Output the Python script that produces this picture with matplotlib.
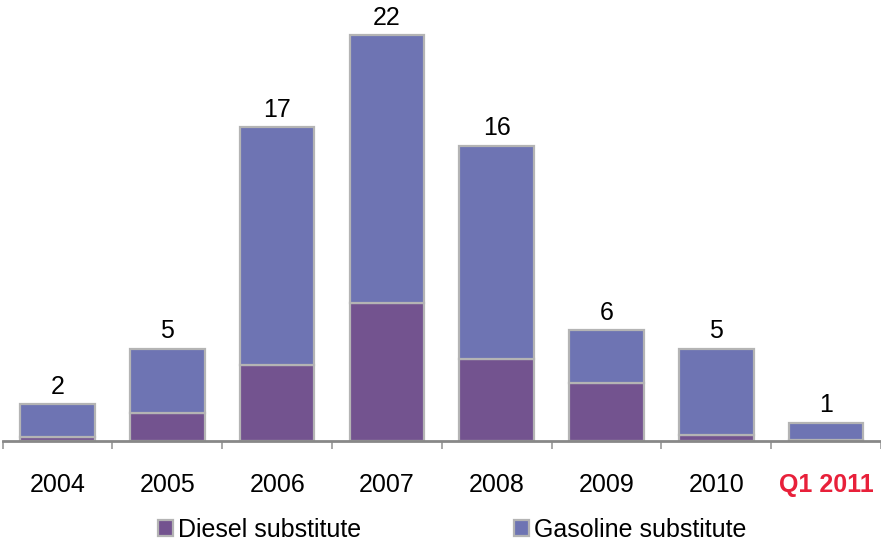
import matplotlib
matplotlib.use('Agg')
import matplotlib.pyplot as plt
import numpy as np

plt.rcParams['font.family'] = ['Liberation Sans', 'DejaVu Sans']

# Number of projects per year, split by substitute type
years = ['2004', '2005', '2006', '2007', '2008', '2009', '2010', 'Q1 2011']
totals = [2, 5, 17, 22, 16, 6, 5, 1]
diesel = [0.2, 1.5, 4.1, 7.5, 4.45, 3.15, 0.3, 0.05]
gasoline = [t - d for t, d in zip(totals, diesel)]

DIESEL_COLOR = '#73538F'
GASOLINE_COLOR = '#6E74B3'
EDGE = '#B4B4B4'

fig = plt.figure(figsize=(8.81, 5.41), dpi=100)
ax = fig.add_axes([0.003, 1 - 441 / 541, 0.997, 441 / 541])

x = np.arange(len(years))
w = 0.68
ax.bar(x, diesel, w, color=DIESEL_COLOR, edgecolor=EDGE, linewidth=1.6,
       label='Diesel substitute')
ax.bar(x, gasoline, w, bottom=diesel, color=GASOLINE_COLOR, edgecolor=EDGE,
       linewidth=1.6, label='Gasoline substitute')

for xi, t in zip(x, totals):
    ax.annotate(str(t), (xi, t), xytext=(0, 4), textcoords='offset points',
                ha='center', va='bottom', fontsize=18)

ax.set_xlim(-0.5, len(years) - 0.5)
ax.set_ylim(0, 23.9)
ax.set_yticks([])
for side in ['left', 'right', 'top']:
    ax.spines[side].set_visible(False)
ax.spines['bottom'].set_color('#888888')
ax.spines['bottom'].set_linewidth(2)

# category labels centred, tick marks on the boundaries
ax.set_xticks(x)
ax.set_xticklabels(years, fontsize=18)
ax.tick_params(axis='x', length=0, pad=23)
ax.set_xticks(np.arange(len(years) + 1) - 0.5, minor=True)
ax.tick_params(axis='x', which='minor', length=6, width=1.2, color='#999999')
last = ax.get_xticklabels()[-1]
last.set_color('#E8203A')
last.set_fontweight('bold')

fig.legend(loc='center', bbox_to_anchor=(0.513, 1 - 530 / 541), ncol=2,
           frameon=False, fontsize=18, handlelength=0.6, handleheight=0.6,
           handletextpad=0.2, columnspacing=6.1)

fig.savefig('out.png', dpi=100)
